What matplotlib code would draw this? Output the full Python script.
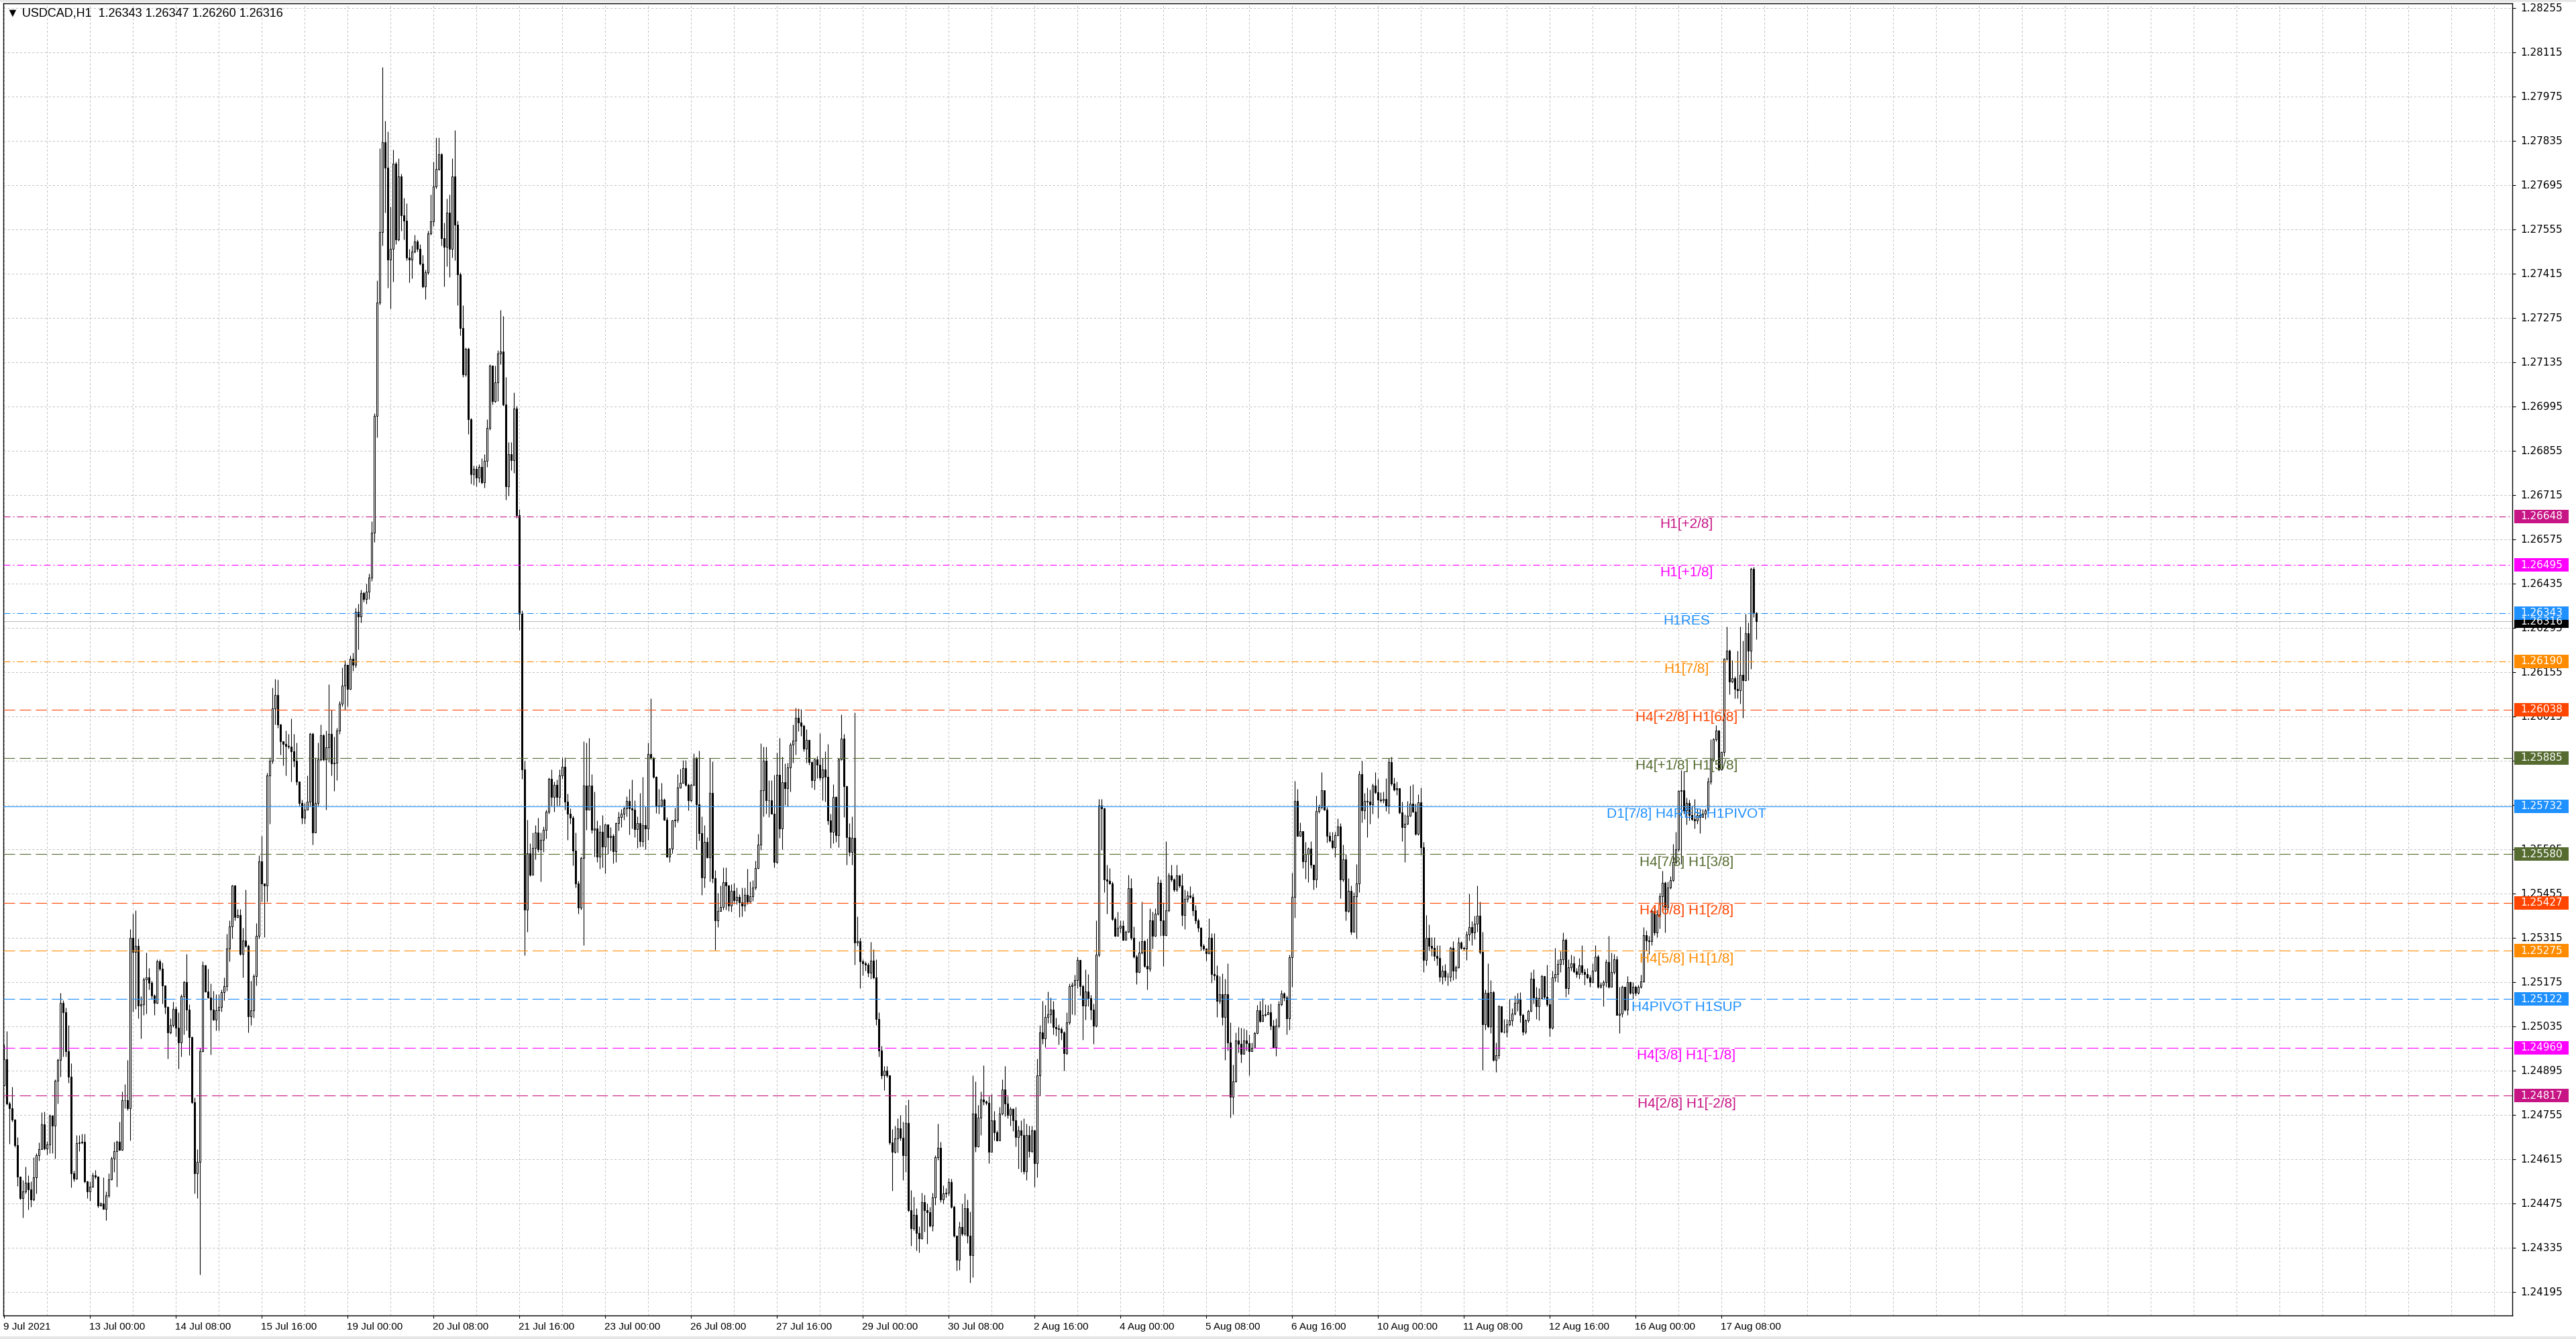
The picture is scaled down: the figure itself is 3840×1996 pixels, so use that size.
import numpy as np
import matplotlib
matplotlib.use("Agg")
import matplotlib.pyplot as plt
from matplotlib.patches import Rectangle
from matplotlib.transforms import blended_transform_factory

# USDCAD H1 bars, prices as 1e-5 steps above 1.20000 (4931 -> 1.24931)
FIRST_OPEN = 4849
CLOSE = [
    4931, 4792, 4778, 4742, 4660, 4560, 4494, 4515, 4541, 4520,  # 0
    4489, 4558, 4628, 4647, 4726, 4650, 4662, 4754, 4723, 4865,
    4929, 5111, 5081, 4958, 4877, 4571, 4555, 4666, 4669, 4671,
    4546, 4515, 4530, 4565, 4560, 4470, 4475, 4458, 4501, 4553,
    4619, 4641, 4671, 4645, 4802, 4803, 4778, 5315, 5272, 5291,
    5102, 5106, 5185, 5190, 5174, 5133, 5111, 5242, 5218, 5166,  # 50
    5098, 5016, 5041, 5090, 5032, 4986, 5131, 5176, 5088, 5003,
    4797, 4571, 4607, 4958, 5228, 5147, 5128, 5088, 5057, 5086,
    5098, 5145, 5163, 5282, 5351, 5481, 5382, 5389, 5265, 5308,
    5291, 5067, 5086, 5196, 5322, 5557, 5488, 5482, 5829, 5876,
    6041, 6084, 5990, 5937, 5929, 5923, 5920, 5905, 5876, 5810,  # 100
    5743, 5696, 5721, 5747, 5961, 5649, 5743, 5880, 5956, 5880,
    5918, 5961, 5867, 5870, 5971, 6056, 6113, 6179, 6103, 6198,
    6179, 6346, 6331, 6406, 6387, 6410, 6454, 6596, 6965, 7325,
    7548, 7831, 7751, 7461, 7495, 7764, 7524, 7723, 7600, 7584,
    7467, 7461, 7486, 7518, 7495, 7448, 7376, 7420, 7543, 7581,  # 150
    7691, 7747, 7793, 7528, 7501, 7609, 7495, 7723, 7571, 7414,
    7244, 7098, 7177, 6956, 6781, 6798, 6770, 6804, 6757, 6823,
    6927, 7126, 7012, 7073, 7164, 7170, 7003, 6744, 6846, 6827,
    6990, 6653, 6340, 5848, 5406, 5583, 5516, 5601, 5649, 5596,
    5626, 5658, 5715, 5819, 5762, 5800, 5762, 5829, 5857, 5747,  # 200
    5709, 5696, 5592, 5488, 5412, 5569, 5797, 5721, 5797, 5658,
    5661, 5572, 5652, 5605, 5674, 5633, 5639, 5589, 5678, 5697,
    5708, 5725, 5749, 5725, 5722, 5659, 5679, 5621, 5672, 5662,
    5897, 5884, 5824, 5732, 5734, 5753, 5690, 5573, 5598, 5686,
    5690, 5791, 5806, 5852, 5799, 5751, 5799, 5884, 5737, 5647,  # 250
    5506, 5619, 5570, 5773, 5504, 5372, 5400, 5414, 5492, 5481,
    5418, 5464, 5435, 5445, 5428, 5418, 5452, 5430, 5447, 5474,
    5536, 5610, 5782, 5876, 5751, 5750, 5709, 5555, 5831, 5662,
    5808, 5789, 5855, 5927, 5939, 6012, 5997, 5987, 5913, 5941,
    5872, 5814, 5879, 5863, 5822, 5849, 5824, 5686, 5651, 5761,  # 300
    5640, 5881, 5946, 5796, 5635, 5587, 5631, 5301, 5306, 5241,
    5235, 5230, 5206, 5244, 5191, 5060, 4960, 4881, 4895, 4881,
    4669, 4640, 4681, 4713, 4684, 4628, 4731, 4454, 4398, 4439,
    4383, 4366, 4481, 4454, 4449, 4406, 4496, 4622, 4651, 4489,
    4508, 4510, 4543, 4465, 4375, 4298, 4402, 4381, 4461, 4375,  # 350
    4312, 4760, 4657, 4748, 4804, 4798, 4795, 4640, 4740, 4701,
    4675, 4760, 4837, 4793, 4757, 4775, 4740, 4687, 4708, 4693,
    4578, 4693, 4642, 4708, 4604, 4881, 5016, 4998, 5066, 5075,
    5089, 5034, 5030, 5028, 5016, 4951, 5049, 5163, 5167, 5183,
    5246, 5163, 5101, 5146, 5124, 5089, 5037, 5263, 5734, 5725,  # 400
    5501, 5496, 5487, 5375, 5322, 5348, 5355, 5310, 5334, 5473,
    5316, 5257, 5207, 5269, 5305, 5226, 5219, 5372, 5322, 5393,
    5489, 5372, 5325, 5402, 5513, 5501, 5469, 5513, 5481, 5389,
    5439, 5450, 5445, 5402, 5371, 5347, 5290, 5282, 5267, 5315,
    5201, 5198, 5117, 5137, 5065, 5137, 4985, 4813, 4863, 4991,  # 450
    4981, 4949, 4991, 4983, 4958, 4969, 5015, 5086, 5053, 5072,
    5074, 5080, 5038, 4971, 5038, 5106, 5139, 5128, 5061, 5254,
    5445, 5748, 5639, 5654, 5557, 5580, 5597, 5546, 5501, 5717,
    5729, 5782, 5721, 5639, 5624, 5602, 5641, 5669, 5501, 5563,
    5400, 5465, 5334, 5448, 5487, 5834, 5719, 5748, 5746, 5738,  # 500
    5798, 5776, 5753, 5750, 5755, 5734, 5871, 5803, 5784, 5788,
    5713, 5666, 5677, 5702, 5739, 5714, 5644, 5745, 5602, 5246,
    5316, 5291, 5284, 5259, 5252, 5193, 5212, 5193, 5193, 5284,
    5212, 5223, 5301, 5284, 5282, 5326, 5349, 5333, 5361, 5386,
    5271, 5043, 5142, 5035, 5145, 4929, 4944, 5100, 5020, 5020,  # 550
    5043, 5054, 5077, 5111, 5122, 5071, 5020, 5054, 5085, 5187,
    5128, 5100, 5126, 5194, 5130, 5105, 5031, 5191, 5202, 5233,
    5248, 5310, 5157, 5222, 5236, 5210, 5202, 5228, 5208, 5202,
    5191, 5176, 5213, 5256, 5162, 5168, 5176, 5240, 5162, 5208,
    5248, 5073, 5077, 5160, 5088, 5176, 5142, 5162, 5142, 5162,  # 600
    5179, 5324, 5308, 5305, 5401, 5333, 5390, 5447, 5490, 5413,
    5476, 5498, 5555, 5595, 5780, 5783, 5718, 5743, 5703, 5692,
    5686, 5703, 5698, 5709, 5718, 5809, 5880, 5943, 5971, 5848,
    5903, 6199, 6224, 6125, 6136, 6102, 6099, 6147, 6130, 6278,
    6224, 6483, 6343, 6316,  # 650
]
HIGH = [
    4979, 5021, 4799, 4846, 4743, 4685, 4560, 4551, 4593, 4565,  # 0
    4546, 4622, 4634, 4669, 4764, 4767, 4674, 4759, 4757, 4868,
    4934, 5142, 5119, 5095, 5041, 4920, 4579, 4693, 4693, 4697,
    4697, 4549, 4546, 4574, 4581, 4562, 4480, 4558, 4515, 4571,
    4624, 4671, 4676, 4735, 4830, 4854, 4929, 5344, 5393, 5403,
    5313, 5131, 5190, 5270, 5221, 5180, 5138, 5247, 5248, 5237,  # 50
    5145, 5100, 5062, 5114, 5100, 5081, 5138, 5180, 5265, 5105,
    5005, 4811, 4647, 4967, 5242, 5232, 5218, 5171, 5149, 5138,
    5138, 5152, 5190, 5329, 5372, 5483, 5483, 5407, 5407, 5348,
    5469, 5294, 5180, 5202, 5363, 5576, 5639, 5488, 5838, 5886,
    6107, 6135, 6132, 5993, 5937, 5971, 5961, 6009, 5961, 5933,  # 100
    5810, 5753, 5743, 5829, 5965, 5965, 5886, 5933, 5990, 5961,
    5971, 6118, 6037, 5952, 5980, 6065, 6170, 6194, 6151, 6208,
    6217, 6359, 6372, 6416, 6410, 6435, 6467, 6634, 6975, 7395,
    7812, 8069, 7899, 7865, 7628, 7808, 7770, 7780, 7732, 7656,
    7638, 7495, 7505, 7539, 7524, 7509, 7476, 7429, 7552, 7666,  # 150
    7770, 7846, 7846, 7798, 7577, 7653, 7666, 7780, 7869, 7584,
    7420, 7316, 7183, 7183, 6959, 6808, 6808, 6814, 6833, 6846,
    6956, 7130, 7122, 7126, 7173, 7300, 7281, 7088, 6884, 6884,
    7041, 6997, 6672, 6350, 5876, 5690, 5615, 5649, 5672, 5696,
    5649, 5668, 5721, 5823, 5848, 5810, 5816, 5848, 5886, 5886,  # 200
    5772, 5725, 5702, 5649, 5497, 5573, 5937, 5933, 5948, 5833,
    5778, 5688, 5672, 5704, 5676, 5640, 5666, 5645, 5681, 5715,
    5723, 5732, 5764, 5787, 5817, 5750, 5700, 5775, 5824, 5732,
    5932, 6072, 5888, 5828, 5787, 5805, 5756, 5697, 5601, 5690,
    5727, 5833, 5850, 5877, 5877, 5803, 5803, 5900, 5888, 5907,  # 250
    5700, 5672, 5633, 5884, 5874, 5531, 5457, 5481, 5538, 5539,
    5483, 5485, 5490, 5474, 5454, 5474, 5476, 5534, 5495, 5499,
    5559, 5644, 5930, 5920, 5920, 5814, 5815, 5831, 5902, 5948,
    5888, 5867, 5870, 5934, 5990, 6043, 6041, 6040, 5990, 5975,
    5942, 5874, 5883, 5891, 5962, 5884, 5905, 5928, 5708, 5801,  # 300
    5764, 5884, 6022, 5961, 5798, 5679, 5700, 6029, 5384, 5315,
    5248, 5241, 5237, 5303, 5280, 5248, 5080, 4975, 4910, 4910,
    4881, 4712, 4722, 4745, 4757, 4734, 4787, 4804, 4519, 4498,
    4461, 4404, 4510, 4504, 4475, 4465, 4510, 4628, 4728, 4672,
    4534, 4524, 4557, 4555, 4469, 4375, 4418, 4477, 4508, 4489,  # 350
    4451, 4881, 4863, 4787, 4830, 4913, 4802, 4816, 4822, 4769,
    4708, 4781, 4869, 4910, 4816, 4781, 4778, 4781, 4722, 4740,
    4745, 4728, 4722, 4722, 4710, 4934, 5040, 5116, 5104, 5146,
    5128, 5116, 5063, 5042, 5034, 5022, 5081, 5172, 5175, 5199,
    5257, 5246, 5167, 5216, 5202, 5136, 5108, 5372, 5755, 5755,  # 400
    5728, 5546, 5536, 5493, 5381, 5399, 5372, 5372, 5340, 5516,
    5505, 5352, 5263, 5305, 5430, 5310, 5313, 5410, 5399, 5410,
    5511, 5501, 5428, 5622, 5522, 5546, 5505, 5546, 5516, 5519,
    5469, 5465, 5479, 5456, 5420, 5378, 5349, 5296, 5284, 5378,
    5330, 5330, 5229, 5196, 5204, 5187, 5235, 5048, 4914, 5016,  # 450
    5033, 5032, 5030, 5025, 5011, 4985, 5019, 5103, 5116, 5126,
    5106, 5103, 5107, 5057, 5061, 5117, 5151, 5145, 5134, 5263,
    5521, 5812, 5787, 5681, 5650, 5620, 5602, 5622, 5504, 5765,
    5738, 5840, 5780, 5729, 5650, 5650, 5650, 5694, 5679, 5610,
    5580, 5504, 5481, 5460, 5549, 5843, 5876, 5773, 5790, 5784,  # 500
    5803, 5840, 5818, 5776, 5778, 5820, 5885, 5889, 5822, 5809,
    5780, 5746, 5706, 5748, 5797, 5801, 5739, 5770, 5792, 5620,
    5389, 5359, 5317, 5317, 5292, 5292, 5229, 5233, 5206, 5288,
    5305, 5229, 5317, 5305, 5288, 5338, 5456, 5368, 5385, 5481,
    5430, 5335, 5153, 5236, 5183, 5149, 4986, 5103, 5100, 5060,  # 550
    5060, 5122, 5094, 5134, 5142, 5145, 5077, 5060, 5088, 5208,
    5217, 5162, 5157, 5199, 5196, 5231, 5122, 5213, 5285, 5248,
    5274, 5333, 5313, 5248, 5262, 5259, 5221, 5253, 5293, 5219,
    5221, 5199, 5236, 5293, 5263, 5176, 5183, 5248, 5322, 5270,
    5265, 5259, 5162, 5165, 5128, 5194, 5179, 5176, 5165, 5168,  # 600
    5199, 5350, 5339, 5322, 5407, 5411, 5404, 5458, 5527, 5495,
    5493, 5510, 5612, 5652, 5783, 5846, 5843, 5760, 5752, 5734,
    5755, 5726, 5726, 5723, 5726, 5823, 5943, 5948, 5988, 5973,
    5905, 6201, 6301, 6227, 6193, 6142, 6224, 6301, 6256, 6341,
    6313, 6486, 6489, 6347,  # 650
]
LOW = [
    4849, 4787, 4664, 4735, 4655, 4532, 4489, 4432, 4508, 4456,  # 0
    4465, 4484, 4508, 4612, 4650, 4645, 4631, 4636, 4636, 4619,
    4792, 4877, 4941, 4941, 4858, 4527, 4546, 4553, 4641, 4664,
    4541, 4494, 4484, 4527, 4555, 4464, 4467, 4456, 4423, 4496,
    4551, 4576, 4529, 4643, 4643, 4778, 4770, 4676, 5083, 5090,
    5062, 4998, 5071, 5076, 5152, 5123, 5073, 5109, 5213, 5109,  # 50
    5076, 4934, 5013, 5034, 5005, 4903, 4941, 5010, 5024, 4944,
    4792, 4508, 4494, 4252, 4956, 5145, 5126, 4946, 5054, 5024,
    5024, 5083, 5119, 5149, 5242, 5313, 5372, 5379, 5261, 5190,
    5287, 5016, 5041, 5064, 5166, 5313, 5431, 5317, 5431, 5677,
    5867, 5990, 5980, 5895, 5861, 5829, 5914, 5810, 5857, 5800,  # 100
    5734, 5677, 5677, 5721, 5734, 5611, 5649, 5734, 5876, 5876,
    5721, 5872, 5829, 5781, 5815, 5961, 6047, 6037, 6047, 6100,
    6160, 6170, 6227, 6312, 6378, 6372, 6387, 6444, 6567, 6899,
    7319, 7505, 7609, 7372, 7306, 7391, 7509, 7520, 7552, 7524,
    7458, 7388, 7401, 7482, 7486, 7444, 7372, 7335, 7414, 7539,  # 150
    7566, 7685, 7742, 7505, 7376, 7439, 7406, 7467, 7458, 7316,
    7221, 7088, 7092, 6908, 6751, 6747, 6744, 6757, 6751, 6738,
    6804, 6922, 7003, 7009, 7012, 7130, 6997, 6700, 6713, 6795,
    6785, 6643, 6289, 5819, 5261, 5336, 5512, 5520, 5564, 5588,
    5493, 5588, 5630, 5709, 5734, 5715, 5734, 5734, 5819, 5721,  # 200
    5626, 5677, 5545, 5475, 5393, 5406, 5293, 5658, 5725, 5647,
    5573, 5555, 5534, 5538, 5520, 5580, 5591, 5551, 5555, 5655,
    5665, 5690, 5700, 5643, 5662, 5633, 5601, 5605, 5605, 5596,
    5626, 5881, 5821, 5711, 5708, 5729, 5688, 5570, 5555, 5584,
    5665, 5681, 5789, 5805, 5796, 5718, 5746, 5798, 5596, 5623,  # 250
    5452, 5476, 5568, 5495, 5490, 5278, 5350, 5404, 5405, 5404,
    5400, 5398, 5425, 5421, 5382, 5384, 5400, 5421, 5428, 5432,
    5469, 5534, 5594, 5700, 5708, 5697, 5708, 5538, 5552, 5631,
    5596, 5736, 5732, 5778, 5869, 5895, 5969, 5955, 5905, 5869,
    5863, 5792, 5785, 5821, 5814, 5750, 5746, 5674, 5601, 5614,  # 300
    5619, 5603, 5877, 5697, 5548, 5575, 5548, 5230, 5290, 5156,
    5198, 5213, 5193, 5186, 5186, 5040, 4940, 4870, 4834, 4875,
    4663, 4516, 4634, 4637, 4675, 4551, 4575, 4451, 4343, 4392,
    4328, 4322, 4363, 4386, 4348, 4402, 4390, 4472, 4614, 4481,
    4477, 4496, 4501, 4461, 4369, 4263, 4265, 4375, 4375, 4351,  # 350
    4225, 4242, 4640, 4654, 4693, 4787, 4787, 4604, 4677, 4675,
    4673, 4675, 4755, 4751, 4745, 4722, 4704, 4657, 4587, 4575,
    4569, 4551, 4622, 4637, 4528, 4559, 4818, 4981, 4971, 5046,
    5046, 5010, 5007, 4978, 4993, 4896, 4946, 5042, 5075, 5073,
    5157, 5134, 4993, 5057, 5099, 5057, 4981, 5034, 5257, 5593,  # 400
    5461, 5393, 5485, 5372, 5320, 5322, 5332, 5308, 5310, 5332,
    5310, 5252, 5169, 5205, 5266, 5222, 5152, 5210, 5281, 5320,
    5387, 5322, 5226, 5322, 5399, 5493, 5463, 5463, 5475, 5355,
    5344, 5428, 5442, 5386, 5361, 5336, 5275, 5275, 5243, 5265,
    5173, 5183, 5065, 5109, 5040, 4929, 4960, 4747, 4758, 4859,  # 450
    4954, 4922, 4948, 4960, 4882, 4960, 4969, 5013, 5048, 5050,
    5067, 5074, 5025, 4969, 4943, 5032, 5101, 5116, 5011, 5025,
    5162, 5380, 5637, 5637, 5536, 5502, 5492, 5536, 5469, 5475,
    5711, 5723, 5719, 5616, 5620, 5599, 5570, 5639, 5442, 5494,
    5370, 5397, 5326, 5334, 5313, 5460, 5681, 5692, 5633, 5677,  # 500
    5708, 5771, 5696, 5745, 5742, 5717, 5708, 5798, 5780, 5767,
    5708, 5622, 5555, 5675, 5700, 5713, 5641, 5641, 5578, 5208,
    5229, 5275, 5259, 5244, 5229, 5179, 5170, 5181, 5166, 5179,
    5183, 5187, 5221, 5280, 5277, 5246, 5307, 5292, 5311, 5334,
    5265, 4898, 5026, 5031, 5014, 4925, 4891, 4934, 5017, 5014,  # 550
    5003, 5037, 5037, 5071, 5085, 5048, 5009, 5012, 5048, 5083,
    5108, 5060, 5054, 5122, 5122, 5100, 5005, 5028, 5179, 5176,
    5208, 5231, 5130, 5137, 5213, 5206, 5191, 5187, 5199, 5168,
    5187, 5160, 5174, 5210, 5157, 5157, 5100, 5162, 5157, 5160,
    5202, 5071, 5014, 5065, 5085, 5073, 5137, 5122, 5134, 5137,  # 600
    5157, 5176, 5276, 5265, 5293, 5324, 5319, 5345, 5407, 5333,
    5401, 5470, 5493, 5550, 5589, 5550, 5709, 5675, 5686, 5686,
    5661, 5677, 5646, 5700, 5692, 5709, 5802, 5874, 5937, 5843,
    5846, 5891, 6193, 6085, 6121, 6073, 6073, 6056, 6011, 6128,
    6130, 6167, 6330, 6260,  # 650
]

TITLE = "\u25bc USDCAD,H1  1.26343 1.26347 1.26260 1.26316"

DATE_LABELS = ["9 Jul 2021", "13 Jul 00:00", "14 Jul 08:00", "15 Jul 16:00",
               "19 Jul 00:00", "20 Jul 08:00", "21 Jul 16:00", "23 Jul 00:00",
               "26 Jul 08:00", "27 Jul 16:00", "29 Jul 00:00", "30 Jul 08:00",
               "2 Aug 16:00", "4 Aug 00:00", "5 Aug 08:00", "6 Aug 16:00",
               "10 Aug 00:00", "11 Aug 08:00", "12 Aug 16:00", "16 Aug 00:00",
               "17 Aug 08:00"]
BARS_PER_LABEL = 32
BARS_PER_GRID = 16

PRICE_TICKS = [1.28255, 1.28115, 1.27975, 1.27835, 1.27695, 1.27555, 1.27415,
               1.27275, 1.27135, 1.26995, 1.26855, 1.26715, 1.26575, 1.26435,
               1.26295, 1.26155, 1.26015, 1.25875, 1.25735, 1.25595, 1.25455,
               1.25315, 1.25175, 1.25035, 1.24895, 1.24755, 1.24615, 1.24475,
               1.24335, 1.24195]

LEVEL_PRICES = [1.26648, 1.26495, 1.26343, 1.26190, 1.26038, 1.25885, 1.25732,
                1.25580, 1.25427, 1.25275, 1.25122, 1.24969, 1.24817]
LEVEL_NAMES = ["H1[+2/8]", "H1[+1/8]", "H1RES", "H1[7/8]", "H4[+2/8] H1[6/8]",
               "H4[+1/8] H1[5/8]", "D1[7/8] H4RES H1PIVOT", "H4[7/8] H1[3/8]",
               "H4[6/8] H1[2/8]", "H4[5/8] H1[1/8]", "H4PIVOT H1SUP",
               "H4[3/8] H1[-1/8]", "H4[2/8] H1[-2/8]"]
LEVEL_COLORS = ["#C71585", "#FF00FF", "#1E90FF", "#FF8C00", "#FF4500", "#556B2F",
                "#1E90FF", "#556B2F", "#FF4500", "#FF8C00", "#1E90FF", "#FF00FF",
                "#C71585"]
LEVEL_KIND = ["dashdot", "dashdot", "dashdot", "dashdot", "dashed", "dashed",
              "solid", "dashed", "dashed", "dashed", "dashed", "dashed", "dashed"]
BID_PRICE = 1.26316

W, H = 3840, 1996
PLOT_L, PLOT_R, PLOT_T, PLOT_B = 5, 3745, 5, 1961

plt.rcParams["font.family"] = ["Liberation Sans", "DejaVu Sans"]
plt.rcParams["lines.scale_dashes"] = False

assert len(CLOSE) == len(HIGH) == len(LOW)

close = 1.2 + np.array(CLOSE) / 1e5
high = 1.2 + np.array(HIGH) / 1e5
low = 1.2 + np.array(LOW) / 1e5
opens = np.concatenate([[1.2 + FIRST_OPEN / 1e5], close[:-1]])
high = np.maximum(high, np.maximum(opens, close))
low = np.minimum(low, np.minimum(opens, close))
x = np.arange(len(close))

fig = plt.figure(figsize=(W / 100, H / 100), dpi=100)
fig.patch.set_facecolor("white")
ax = fig.add_axes([PLOT_L / W, 1 - PLOT_B / H, (PLOT_R - PLOT_L) / W, (PLOT_B - PLOT_T) / H])
ax.set_xlim(-0.25, 934.75)
ax.set_ylim(1.241218, 1.282703)

# grid
grid_style = dict(color="#c0c0c0", linewidth=0.72, linestyle=(0, (2.2, 2.2)), zorder=1)
for gx in range(0, 935, BARS_PER_GRID):
    ax.axvline(gx, **grid_style)
for p in PRICE_TICKS:
    ax.axhline(p, **grid_style)

# bid line
ax.axhline(BID_PRICE, color="#c0c0c0", linewidth=0.8, zorder=2)

# candles
ax.vlines(x, low, high, color="black", linewidth=0.8, zorder=3)
up = close >= opens
body_lo = np.minimum(opens, close)
body_h = np.abs(close - opens)
ax.bar(x[up], body_h[up], bottom=body_lo[up], width=0.62, facecolor="white",
       edgecolor="black", linewidth=0.75, zorder=4)
ax.bar(x[~up], body_h[~up], bottom=body_lo[~up], width=0.62, facecolor="black",
       edgecolor="black", linewidth=0.75, zorder=4)

# level lines and their names
styles = {"dashdot": (0, (7.2, 2.9, 1.4, 2.9)), "dashed": (0, (12.2, 5.0)), "solid": "-"}
for price, name, col, kind in zip(LEVEL_PRICES, LEVEL_NAMES, LEVEL_COLORS, LEVEL_KIND):
    ax.axhline(price, color=col, linewidth=0.8, linestyle=styles[kind], zorder=5)
    ax.annotate(name, xy=(627, price), xytext=(0, -8.6), textcoords="offset points",
                ha="center", va="center", color=col, fontsize=15, zorder=6)

# frame
for s in ax.spines.values():
    s.set_color("black")
    s.set_linewidth(1.0)

# x axis: ticks and date labels
label_pos = [i * BARS_PER_LABEL for i in range(len(DATE_LABELS))]
ax.set_xticks(label_pos)
ax.tick_params(axis="x", direction="out", length=3, width=0.8, labelbottom=False)
tx = blended_transform_factory(ax.transData, fig.transFigure)
for pos, lab in zip(label_pos, DATE_LABELS):
    ax.text(pos - 0.2, 1 - 1978 / H, lab, transform=tx, ha="left", va="center",
            fontsize=11, color="black", clip_on=False)

# y axis: ticks on the right and price labels
ax.set_yticks(PRICE_TICKS)
ax.tick_params(axis="y", left=False, right=True, direction="out", length=3.5,
               width=0.8, labelleft=False, labelright=False)
ty = blended_transform_factory(fig.transFigure, ax.transData)
label_x = 3757 / W
for p in PRICE_TICKS:
    ax.text(label_x, p, f"{p:.5f}", transform=ty, ha="left", va="center",
            fontsize=11, family="DejaVu Sans", color="black", zorder=4, clip_on=False)

# price boxes on the right edge
box_h = 20 / 47150
box_x0, box_w = 3748 / W, 81 / W
boxes = [(BID_PRICE, "black")] + list(zip(LEVEL_PRICES, LEVEL_COLORS))
for p, col in boxes:
    ax.add_patch(Rectangle((box_x0, p - box_h / 2), box_w, box_h, transform=ty,
                           facecolor=col, edgecolor="none", zorder=7, clip_on=False))
    ax.text(label_x, p, f"{p:.5f}", transform=ty, ha="left", va="center",
            fontsize=11, family="DejaVu Sans", color="white", zorder=8, clip_on=False)

# title
fig.text(10 / W, 1 - 20 / H, TITLE, ha="left", va="center", fontsize=13, color="black")

# thin grey window edges
fig.patches.append(Rectangle((0, 0), 1, 4 / H, transform=fig.transFigure,
                             facecolor="#e6e6e6", edgecolor="none"))
fig.patches.append(Rectangle((0, 1 - 3 / H), 1, 3 / H, transform=fig.transFigure,
                             facecolor="#e6e6e6", edgecolor="none"))

fig.savefig("out.png", dpi=100, facecolor="white")
